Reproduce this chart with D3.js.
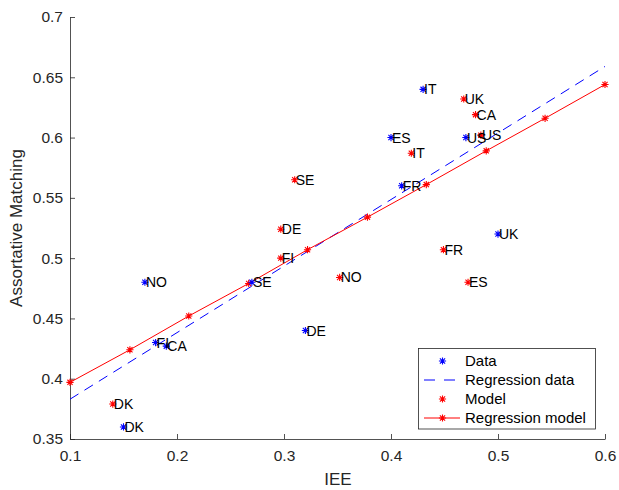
<!DOCTYPE html>
<html><head><meta charset="utf-8">
<script src="https://cdn.jsdelivr.net/npm/d3@7"></script>
<style>body{margin:0;background:#fff}svg{font-family:"Liberation Sans",Arial,sans-serif}</style>
</head><body><svg id="c" width="619" height="490"></svg>
<script>
const dataLabels = ["IT","ES","US","FR","UK","NO","SE","FI","CA","DK","DE"];
const dataX = [0.43,0.40,0.47,0.41,0.50,0.17,0.27,0.18,0.19,0.15,0.32];
const dataY = [0.64,0.60,0.60,0.56,0.52,0.48,0.48,0.43,0.427,0.36,0.44];
const modelLabels = ["SE","DE","UK","CA","US","IT","FI","NO","FR","ES","DK"];
const modelX = [0.31,0.297,0.468,0.479,0.484,0.419,0.297,0.352,0.449,0.472,0.14];
const modelY = [0.565,0.524,0.632,0.619,0.602,0.587,0.50,0.484,0.507,0.48,0.379];
const regDataX = [0.1,0.6];
const regDataY = [0.383,0.659];
const regModelX = [0.1,0.156,0.211,0.267,0.322,0.378,0.433,0.489,0.544,0.6];
const regModelY = [0.397,0.424,0.452,0.479,0.507,0.534,0.561,0.589,0.616,0.644];
const xTicks = [0.1,0.2,0.3,0.4,0.5,0.6];
const yTicks = [0.35,0.4,0.45,0.5,0.55,0.6,0.65,0.7];
const legendItems = ["Data","Regression data","Model","Regression model"];

const svg = d3.select("#c");
const x = d3.scaleLinear().domain([0.1,0.6]).range([70,605]);
const y = d3.scaleLinear().domain([0.35,0.7]).range([439,17]);
const axCol = "#262626";

function star(g, cx, cy, col){
  const r = 3.6, d = r*0.72;
  const p = `M${cx-r},${cy}L${cx+r},${cy}M${cx},${cy-r}L${cx},${cy+r}M${cx-d},${cy-d}L${cx+d},${cy+d}M${cx-d},${cy+d}L${cx+d},${cy-d}`;
  g.append("path").attr("d",p).attr("stroke",col).attr("stroke-width",1.1).attr("fill","none");
}

// axes
const xa = svg.append("g").attr("transform","translate(0,439)")
  .call(d3.axisBottom(x).tickValues(xTicks).tickFormat(d3.format("")).tickSizeInner(-5).tickSizeOuter(0).tickPadding(8));
const ya = svg.append("g").attr("transform","translate(70,0)")
  .call(d3.axisLeft(y).tickValues(yTicks).tickFormat(d3.format("")).tickSizeInner(-5).tickSizeOuter(0).tickPadding(7));
[xa,ya].forEach(a=>{
  a.select(".domain").attr("stroke",axCol).attr("stroke-width",0.8);
  a.selectAll(".tick line").attr("stroke",axCol).attr("stroke-width",0.8);
  a.selectAll(".tick text").attr("fill",axCol).style("font-size","15.5px").style("font-family","Liberation Sans, Arial, sans-serif");
});
xa.selectAll(".tick text").attr("dy","0.9em");

svg.append("text").attr("x",338).attr("y",485).attr("text-anchor","middle")
  .attr("fill",axCol).style("font-size","17px").text("IEE");
svg.append("text").attr("transform","translate(22,228) rotate(-90)").attr("text-anchor","middle")
  .attr("fill",axCol).style("font-size","17px").text("Assortative Matching");

// regression lines
const line = d3.line().x(d=>x(d[0])).y(d=>y(d[1]));
svg.append("path").attr("d",line(d3.zip(regDataX,regDataY)))
  .attr("stroke","#0000ff").attr("stroke-width",1).attr("stroke-dasharray","10,7").attr("fill","none");
svg.append("path").attr("d",line(d3.zip(regModelX,regModelY)))
  .attr("stroke","#ff0000").attr("stroke-width",1).attr("fill","none");
const gm = svg.append("g");
regModelX.forEach((v,i)=>star(gm,x(v),y(regModelY[i]),"#ff0000"));

// points
const gp = svg.append("g");
dataX.forEach((v,i)=>star(gp,x(v),y(dataY[i]),"#0000ff"));
modelX.forEach((v,i)=>star(gp,x(v),y(modelY[i]),"#ff0000"));
const gl = svg.append("g").style("font-size","14px").attr("fill","#000");
dataX.forEach((v,i)=>gl.append("text").attr("x",x(v)+1).attr("y",y(dataY[i])).attr("dy","0.36em").text(dataLabels[i]));
modelX.forEach((v,i)=>gl.append("text").attr("x",x(v)+1).attr("y",y(modelY[i])).attr("dy","0.36em").text(modelLabels[i]));

// legend
const lg = svg.append("g");
lg.append("rect").attr("x",418.5).attr("y",348.5).attr("width",177).attr("height",80.5)
  .attr("fill","#fff").attr("stroke",axCol).attr("stroke-width",0.8);
const rows = [361,380,399,418];
legendItems.forEach((t,i)=>{
  const yy = rows[i];
  if(i===0) star(lg,442.5,yy,"#0000ff");
  if(i===1) lg.append("line").attr("x1",424).attr("x2",460).attr("y1",yy).attr("y2",yy)
    .attr("stroke","#0000ff").attr("stroke-width",1).attr("stroke-dasharray","11,9");
  if(i===2) star(lg,442.5,yy,"#ff0000");
  if(i===3){ lg.append("line").attr("x1",424).attr("x2",460).attr("y1",yy).attr("y2",yy)
    .attr("stroke","#ff0000").attr("stroke-width",1); star(lg,442.5,yy,"#ff0000"); }
  lg.append("text").attr("x",465).attr("y",yy).attr("dy","0.36em").attr("fill","#000")
    .style("font-size","15px").text(t);
});
</script></body></html>
